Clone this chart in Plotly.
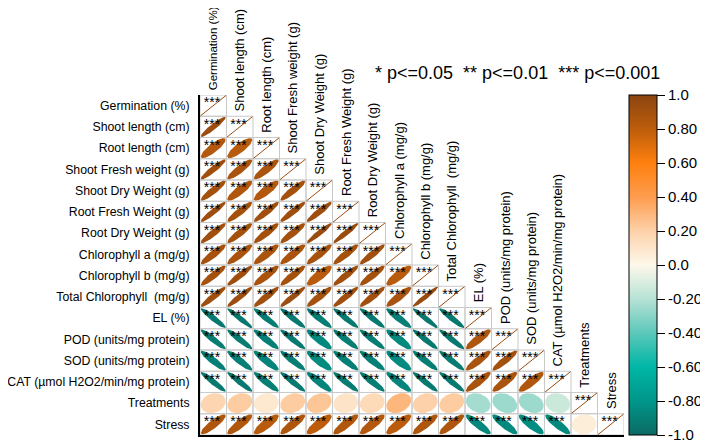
import numpy as np
import plotly.graph_objects as go
from plotly.colors import sample_colorscale

# ---------------- data ----------------
row_labels = [
    "Germination (%)", "Shoot length (cm)", "Root length (cm)", "Shoot Fresh weight (g)",
    "Shoot Dry Weight (g)", "Root Fresh Weight (g)", "Root Dry Weight (g)",
    "Chlorophyll a (mg/g)", "Chlorophyll b (mg/g)", "Total Chlorophyll\u00a0 (mg/g)",
    "EL (%)", "POD (units/mg protein)", "SOD (units/mg protein)",
    "CAT (µmol H2O2/min/mg protein)", "Treatments", "Stress",
]
col_labels = [
    "Germination (%)", "Shoot length (cm)", "Root length (cm)", "Shoot Fresh weight (g)",
    "Shoot Dry Weight (g)", "Root Fresh Weight (g)", "Root Dry Weight (g)",
    "Chlorophyll a (mg/g)", "Chlorophyll b (mg/g)", "Total Chlorophyll\u00a0 (mg/g)",
    "EL (%)", "POD (units/mg protein)", "SOD (units/mg protein)",
    "CAT (µmol H2O2/min/mg protein)", "Treatments", "Stress",
]

# lower-triangle correlations (row i, columns 0..i-1)
corr_lower = [
    [],
    [0.93],
    [0.84, 0.82],
    [0.92, 0.88, 0.87],
    [0.90, 0.85, 0.84, 0.90],
    [0.93, 0.90, 0.91, 0.92, 0.92],
    [0.91, 0.90, 0.90, 0.90, 0.94, 0.94],
    [0.89, 0.88, 0.87, 0.88, 0.89, 0.90, 0.91],
    [0.90, 0.92, 0.88, 0.90, 0.82, 0.91, 0.90, 0.82],
    [0.92, 0.93, 0.91, 0.93, 0.90, 0.92, 0.91, 0.88, 0.95],
    [-0.93, -0.94, -0.92, -0.93, -0.91, -0.93, -0.93, -0.90, -0.94, -0.93],
    [-0.92, -0.92, -0.90, -0.93, -0.86, -0.91, -0.92, -0.86, -0.93, -0.93, 0.86],
    [-0.90, -0.90, -0.88, -0.91, -0.85, -0.90, -0.90, -0.85, -0.91, -0.92, 0.88, 0.90],
    [-0.93, -0.93, -0.90, -0.93, -0.88, -0.92, -0.91, -0.88, -0.93, -0.93, 0.88, 0.87, 0.85],
    [0.18, 0.22, 0.08, 0.22, 0.24, 0.10, 0.15, 0.30, 0.20, 0.22, -0.24, -0.26, -0.26, -0.14],
    [0.86, 0.85, 0.82, 0.86, 0.80, 0.85, 0.84, 0.81, 0.86, 0.86, -0.87, -0.86, -0.84, -0.86, 0.05],
]

# significance marks (row i, columns 0..i, last entry = diagonal)
sig_lower = [
    ["***"],
    ["***"] * 2,
    ["***"] * 3,
    ["***"] * 4,
    ["***"] * 5,
    ["***"] * 6,
    ["***"] * 7,
    ["***"] * 8,
    ["***"] * 9,
    ["***"] * 10,
    ["***"] * 11,
    ["***"] * 12,
    ["***"] * 13,
    ["***"] * 14,
    [""] * 14 + ["***"],
    ["***"] * 14 + ["", "***"],
]

cbar_tickvals = [-1.0, -0.8, -0.6, -0.4, -0.2, 0.0, 0.2, 0.4, 0.6, 0.8, 1.0]
cbar_ticktext = ["-1.0", "-0.80", "-0.60", "-0.40", "-0.20", "0.0", "0.20", "0.40", "0.60", "0.80", "1.0"]
legend_text = "* p<=0.05\u00a0\u00a0** p<=0.01\u00a0\u00a0*** p<=0.001"

colorscale = [
    [0.0, "#0b6a62"], [0.1, "#00968a"], [0.2, "#00b6a6"], [0.3, "#5cc8ba"],
    [0.4, "#b6e2d5"], [0.5, "#fdf8ea"], [0.6, "#fdd1a9"], [0.7, "#fd9c4e"],
    [0.8, "#ff800f"], [0.9, "#bd5d0c"], [1.0, "#8b4410"],
]

FONT = "Arial, Liberation Sans, sans-serif"
n = len(row_labels)
fig = go.Figure()

# ---------------- cell borders ----------------
gx, gy = [], []
for i in range(n):
    for j in range(i + 1):
        gx += [j, j + 1, j + 1, j, j, None]
        gy += [i, i, i + 1, i + 1, i, None]
fig.add_trace(go.Scatter(x=gx, y=gy, mode="lines", line=dict(color="#c9c9c9", width=1),
                         hoverinfo="skip", showlegend=False))

# ---------------- ellipses ----------------
t = np.linspace(0, 2 * np.pi, 72)
s = 0.47
for i in range(n):
    for j, r in enumerate(corr_lower[i]):
        d = np.arccos(r)
        u = np.cos(t + d / 2)
        v = np.cos(t - d / 2)
        col = sample_colorscale(colorscale, [(r + 1) / 2])[0]
        fig.add_trace(go.Scatter(x=j + 0.5 + s * u, y=i + 0.5 - s * v, mode="lines",
                                 fill="toself", fillcolor=col, line=dict(width=0, color=col),
                                 hoverinfo="skip", showlegend=False))

# diagonal (r = 1): thin line corner to corner
dx, dy = [], []
for i in range(n):
    dx += [i + 0.02, i + 0.98, None]
    dy += [i + 0.98, i + 0.02, None]
diag_col = sample_colorscale(colorscale, [0.97])[0]
fig.add_trace(go.Scatter(x=dx, y=dy, mode="lines", line=dict(color=diag_col, width=1),
                         hoverinfo="skip", showlegend=False))

# ---------------- significance stars ----------------
sx, sy, st = [], [], []
for i in range(n):
    for j, txt in enumerate(sig_lower[i]):
        if txt:
            sx.append(j + 0.45)
            sy.append(i + 0.42)
            st.append(txt)
fig.add_trace(go.Scatter(x=sx, y=sy, mode="text", text=st, textposition="middle center",
                         textfont=dict(family=FONT, size=14, color="black"),
                         hoverinfo="skip", showlegend=False))

# ---------------- colorbar (invisible carrier) ----------------
cvals = [r for row in corr_lower for r in row]
fig.add_trace(go.Scatter(
    x=[0.5] * len(cvals), y=[0.5] * len(cvals), mode="markers",
    marker=dict(size=0.1, opacity=0, color=cvals, cmin=-1, cmax=1, colorscale=colorscale,
                showscale=True,
                colorbar=dict(x=(621 - 192) / 424, xanchor="left", xpad=0, ypad=0,
                              y=0.5, yanchor="middle", len=1, lenmode="fraction",
                              thickness=28, outlinewidth=1, outlinecolor="black",
                              tickvals=cbar_tickvals, ticktext=cbar_ticktext,
                              ticks="outside", ticklen=8, tickwidth=1, tickcolor="black",
                              ticklabeloverflow="allow",
                              tickfont=dict(family=FONT, size=15, color="black"))),
    hoverinfo="skip", showlegend=False))

# ---------------- column labels ----------------
for j, lab in enumerate(col_labels):
    size = 11.5 if j == 0 else 13
    fig.add_annotation(x=j + 0.5, y=j, xref="x", yref="y", text=lab, showarrow=False,
                       textangle=-90, xanchor="center", yanchor="bottom", yshift=3,
                       font=dict(family=FONT, size=size, color="black"))

fig.add_annotation(x=(365 - 192) / 424, y=(427 - 65) / 340, xref="paper", yref="paper",
                   text=legend_text, showarrow=False, xanchor="left", yanchor="middle",
                   font=dict(family=FONT, size=18, color="black"))

fig.update_layout(
    width=700, height=433,
    margin=dict(l=192, r=84, t=87, b=6, autoexpand=False),
    plot_bgcolor="white", paper_bgcolor="white",
    showlegend=False,
    xaxis=dict(range=[0, n], showgrid=False, zeroline=False, showticklabels=False,
               showline=True, linecolor="black", linewidth=2, ticks="", automargin=False),
    yaxis=dict(range=[n, 0], showgrid=False, zeroline=False, automargin=False,
               tickvals=[i + 0.5 for i in range(n)], ticktext=row_labels, ticks="",
               showline=True, linecolor="black", linewidth=2, ticklabelstandoff=6,
               tickfont=dict(family=FONT, size=12.3, color="black")),
)

fig.write_html("out.html")
